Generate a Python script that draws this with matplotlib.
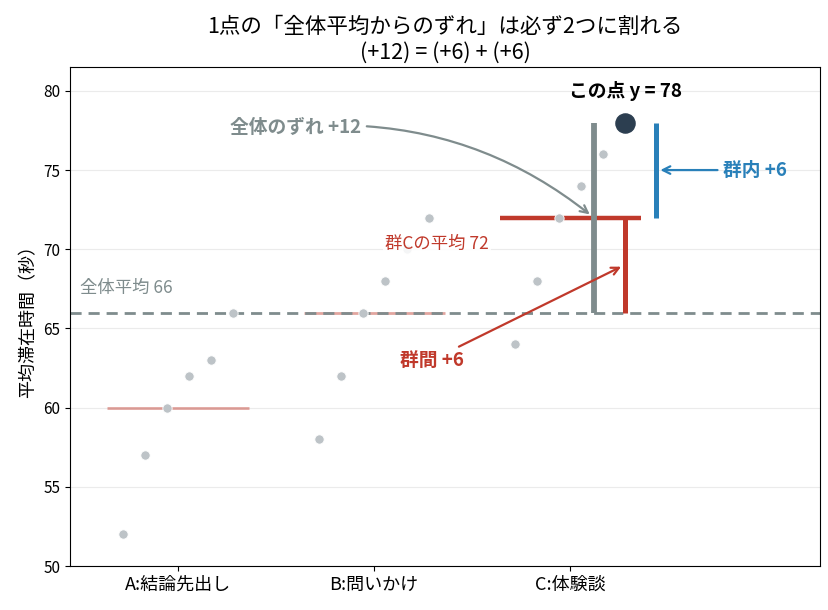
import numpy as np
import matplotlib
matplotlib.use("Agg")
import matplotlib.pyplot as plt

plt.rcParams['font.family'] = ['Noto Sans CJK JP', 'DejaVu Sans']

categories = ["A:結論先出し", "B:問いかけ", "C:体験談"]
values_A = [52, 57, 60, 62, 63, 66]
values_B = [58, 62, 66, 68, 70, 72]
values_C = [64, 68, 72, 74, 76, 78]
groups = [values_A, values_B, values_C]
grand_mean = 66
focus_value = 78
focus_group = 2

title = "1点の「全体平均からのずれ」は必ず2つに割れる\n(+12) = (+6) + (+6)"
ylabel = "平均滞在時間（秒）"

GRAY = "#7f8c8d"
RED = "#c0392b"
BLUE = "#2980b9"
PT = "#bdc3c7"
DARK = "#2c3e50"

fig = plt.figure(figsize=(8.29, 6.10), dpi=100)
ax = fig.add_axes([0.0845, 0.072, 0.905, 0.818])

offsets = np.linspace(-0.28, 0.28, 6)
for i, vals in enumerate(groups):
    xs = i + offsets
    m = np.mean(vals)
    if i == focus_group:
        ax.plot([i - 0.36, i + 0.36], [m, m], color=RED, lw=3.2, zorder=3, solid_capstyle='butt')
        ax.scatter(xs[:-1], vals[:-1], s=45, color=PT, edgecolors='white', linewidths=0.6, zorder=4)
    else:
        ax.plot([i - 0.36, i + 0.36], [m, m], color=RED, alpha=0.45, lw=2, zorder=2, solid_capstyle='butt')
        ax.scatter(xs, vals, s=45, color=PT, edgecolors='white', linewidths=0.6, zorder=4)

ax.axhline(grand_mean, color=GRAY, lw=2, ls=(0, (4, 2.5)), zorder=2.5)

px = focus_group + offsets[-1]
cmean = np.mean(groups[focus_group])
ax.scatter([px], [focus_value], s=190, color=DARK, zorder=6)

# decomposition bars
ax.plot([px - 0.16, px - 0.16], [grand_mean, focus_value], color=GRAY, lw=4.2, zorder=3.5, solid_capstyle='butt')
ax.plot([px, px], [grand_mean, cmean], color=RED, lw=3.6, zorder=3.5, solid_capstyle='butt')
ax.plot([px + 0.16, px + 0.16], [cmean, focus_value], color=BLUE, lw=3.6, zorder=3.5, solid_capstyle='butt')

ax.text(px, 80.0, f"この点 y = {focus_value}", ha='center', va='center', fontsize=13.5, fontweight='bold', color='black', zorder=7)

ax.annotate(f"全体のずれ +{focus_value - grand_mean}", xy=(px - 0.18, 72.2), xytext=(0.6, 77.7),
            ha='center', va='center', fontsize=13.5, fontweight='bold', color=GRAY,
            arrowprops=dict(arrowstyle='->', color=GRAY, lw=1.6, connectionstyle='arc3,rad=-0.2',
                            shrinkA=2, shrinkB=0), zorder=7)

ax.annotate(f"群内 +{int(focus_value - cmean)}", xy=(px + 0.18, 75), xytext=(2.78, 75),
            ha='left', va='center', fontsize=13.5, fontweight='bold', color=BLUE,
            arrowprops=dict(arrowstyle='->', color=BLUE, lw=1.6, shrinkA=2, shrinkB=0), zorder=7)

ax.annotate(f"群間 +{int(cmean - grand_mean)}", xy=(px - 0.02, 68.9), xytext=(1.13, 63.0),
            ha='left', va='center', fontsize=13.5, fontweight='bold', color=RED,
            arrowprops=dict(arrowstyle='->', color=RED, lw=1.6, shrinkA=2, shrinkB=0), zorder=7)

ax.text(1.32, 70.35, f"群Cの平均 {int(cmean)}", ha='center', va='center', fontsize=12.5, color=RED,
        bbox=dict(facecolor='white', edgecolor='none', alpha=0.85, pad=1.5), zorder=5)
ax.text(-0.50, 67.55, f"全体平均 {grand_mean}", ha='left', va='center', fontsize=12.5, color=GRAY, zorder=5)

ax.set_xlim(-0.551, 3.276)
ax.set_ylim(50, 81.5)
ax.set_xticks(range(len(categories)))
ax.set_xticklabels(categories, fontsize=13)
ax.set_yticks([50, 55, 60, 65, 70, 75, 80])
ax.tick_params(axis='y', labelsize=11)
ax.set_ylabel(ylabel, fontsize=13)
ax.yaxis.grid(True, color='#ebebeb', lw=0.8)
ax.set_axisbelow(True)
ax.set_title(title, fontsize=15.5, linespacing=1.2)

fig.savefig("out.png", dpi=100)
